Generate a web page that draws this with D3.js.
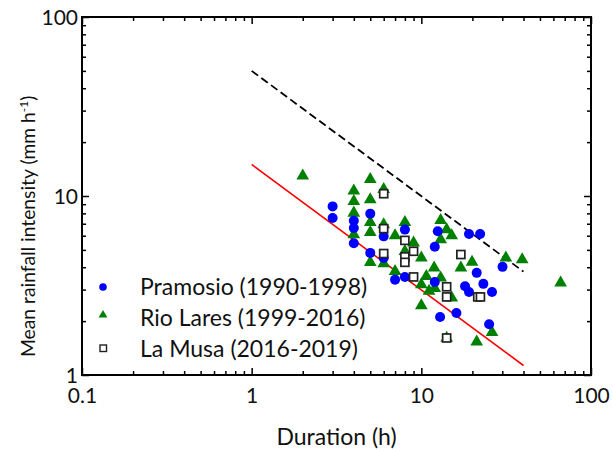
<!DOCTYPE html>
<html><head><meta charset="utf-8">
<script src="https://cdn.jsdelivr.net/npm/d3@7"></script>
<style>html,body{margin:0;padding:0;background:#fff;} svg{display:block;} text{font-family:Lato, "Open Sans", sans-serif; fill:#111;}</style>
</head><body>
<svg id="chart" width="613" height="451"></svg>
<script>
// Pramosio (1990-1998): [duration h, intensity mm/h]
const pramosio = [
  [3.0,8.75],[3.0,7.54],[4.0,7.28],[4.0,6.63],[4.0,5.45],[5.0,7.97],[5.0,4.81],
  [6.0,5.95],[6.0,4.51],[8.0,6.49],[7.0,3.41],[8.0,3.53],[12.5,6.35],[12.0,5.2],
  [12.0,3.31],[12.9,2.11],[19.1,6.14],[22.2,6.14],[21.2,3.72],[30.1,4.02],
  [18.1,3.13],[19.1,2.91],[23.2,3.23],[26.1,2.91],[16.1,2.22],[25.1,1.92]
];
// Rio Lares (1999-2016)
const rioLares = [
  [2.0,12.98],[5.0,12.4],[4.0,10.7],[6.0,10.9],[4.0,9.33],[5.0,9.54],[4.0,8.04],
  [5.0,7.12],[6.0,6.92],[5.0,6.26],[4.0,6.08],[7.0,6.01],[8.0,7.12],[9.0,5.47],
  [5.0,4.26],[6.0,4.19],[8.0,4.91],[10.0,4.51],[7.0,3.8],[11.9,3.97],[10.7,3.56],
  [10.0,3.2],[11.1,2.94],[12.0,3.05],[10.0,2.44],[13.0,7.31],[14.1,6.49],[13.0,5.7],
  [15.1,6.01],[19.9,4.28],[17.1,3.97],[31.5,4.51],[39.3,4.41],[66.2,3.27],[13.0,3.49],
  [15.1,2.70],[26.1,1.73],[14.1,1.61],[21.2,1.53]
];
// La Musa (2016-2019)
const laMusa = [
  [6.0,10.3],[6.0,6.57],[8.0,5.65],[6.0,4.77],[8.0,4.57],[8.0,4.26],[9.0,4.91],
  [9.0,3.53],[17.1,4.71],[14.1,3.11],[14.1,2.73],[21.5,2.73],[22.3,2.73],[14.1,1.61]
];
// threshold lines (endpoints)
const redLine = [[1,15],[40,1.13]];
const blackLine = [[1,50],[40,3.78]];

const legendLabels = ["Pramosio (1990-1998)","Rio Lares (1999-2016)","La Musa (2016-2019)"];
const xMajor = [0.1,1,10,100];
const yMajor = [1,10,100];
const xTickLabels = ["0.1","1","10","100"];
const yTickLabels = ["1","10","100"];

const svg = d3.select("#chart");
const L=82, R=591, T=17, B=375;
const x = d3.scaleLog().domain([0.1,100]).range([L,R]);
const y = d3.scaleLog().domain([1,100]).range([B,T]);

function minors(dom){
  const out=[]; let d=dom[0];
  while(d<dom[1]){ for(let k=2;k<=9;k++) out.push(+(d*k).toPrecision(3)); d*=10; }
  return out;
}
const xMinor = minors([0.1,100]), yMinor = minors([1,100]);

const fmtX = d => xTickLabels[xMajor.indexOf(d)];
const fmtY = d => yTickLabels[yMajor.indexOf(d)];

// bottom
const gb = svg.append("g").attr("transform",`translate(0,${B})`);
gb.call(d3.axisBottom(x).tickValues(xMajor).tickSizeInner(-7).tickSizeOuter(0).tickPadding(13).tickFormat(fmtX));
gb.append("g").call(d3.axisBottom(x).tickValues(xMinor).tickSizeInner(-4).tickSizeOuter(0).tickFormat(""));
// top
const gt = svg.append("g").attr("transform",`translate(0,${T})`);
gt.call(d3.axisTop(x).tickValues(xMajor).tickSizeInner(-7).tickSizeOuter(0).tickFormat(""));
gt.append("g").call(d3.axisTop(x).tickValues(xMinor).tickSizeInner(-4).tickSizeOuter(0).tickFormat(""));
// left
const gl = svg.append("g").attr("transform",`translate(${L},0)`);
gl.call(d3.axisLeft(y).tickValues(yMajor).tickSizeInner(-7).tickSizeOuter(0).tickPadding(4).tickFormat(fmtY));
gl.append("g").call(d3.axisLeft(y).tickValues(yMinor).tickSizeInner(-4).tickSizeOuter(0).tickFormat(""));
// right
const gr = svg.append("g").attr("transform",`translate(${R},0)`);
gr.call(d3.axisRight(y).tickValues(yMajor).tickSizeInner(-7).tickSizeOuter(0).tickFormat(""));
gr.append("g").call(d3.axisRight(y).tickValues(yMinor).tickSizeInner(-4).tickSizeOuter(0).tickFormat(""));

svg.selectAll(".domain").remove();
svg.selectAll(".tick line").attr("stroke","#000").attr("stroke-width",1.5);
svg.selectAll(".tick text").attr("font-size",21).style("font-family","Lato, sans-serif").attr("fill","#111");
gl.selectAll(".tick text").attr("dy","0.36em");

svg.append("rect").attr("x",L).attr("y",T).attr("width",R-L).attr("height",B-T)
  .attr("fill","none").attr("stroke","#000").attr("stroke-width",2);

// lines
const line = d3.line().x(d=>x(d[0])).y(d=>y(d[1]));
svg.append("path").datum(blackLine).attr("d",line).attr("fill","none").attr("stroke","#000")
  .attr("stroke-width",1.8).attr("stroke-dasharray","8,4");
svg.append("path").datum(redLine).attr("d",line).attr("fill","none").attr("stroke","#ff0000")
  .attr("stroke-width",1.6);

const tri = d3.symbol().type(d3.symbolTriangle).size(70);
// points
svg.append("g").selectAll("path").data(rioLares).join("path")
  .attr("d",tri).attr("transform",d=>`translate(${x(d[0])},${y(d[1])})`).attr("fill","#008000");
svg.append("g").selectAll("circle").data(pramosio).join("circle")
  .attr("cx",d=>x(d[0])).attr("cy",d=>y(d[1])).attr("r",5).attr("fill","#0000ff");
svg.append("g").selectAll("rect").data(laMusa).join("rect")
  .attr("x",d=>x(d[0])-4).attr("y",d=>y(d[1])-4).attr("width",8).attr("height",8)
  .attr("fill","#fff").attr("stroke","#222").attr("stroke-width",1.7);

// legend
const lg = svg.append("g");
const rows=[287,318,349], mx=103;
lg.append("circle").attr("cx",mx).attr("cy",rows[0]).attr("r",3.8).attr("fill","#0000ff");
lg.append("path").attr("d",d3.symbol().type(d3.symbolTriangle).size(34)).attr("transform",`translate(${mx},${rows[1]-3})`).attr("fill","#008000");
lg.append("rect").attr("x",mx-3).attr("y",rows[2]-4).attr("width",6.5).attr("height",6.5).attr("fill","#fff").attr("stroke","#222").attr("stroke-width",1.4);
legendLabels.forEach((t,i)=>{
  lg.append("text").attr("x",140).attr("y",rows[i]).attr("dy","0.35em").attr("font-size",23).text(t);
});

// axis titles
svg.append("text").attr("x",(L+R)/2).attr("y",445).attr("text-anchor","middle").attr("font-size",23).text("Duration (h)");
const yt = svg.append("text").attr("transform",`translate(35,357) rotate(-90)`).attr("text-anchor","start").attr("font-size",19.3);
yt.append("tspan").text("Mean rainfall intensity (mm h");
yt.append("tspan").attr("baseline-shift","super").attr("font-size",12).text("-1");
yt.append("tspan").text(")");
</script>
</body></html>
